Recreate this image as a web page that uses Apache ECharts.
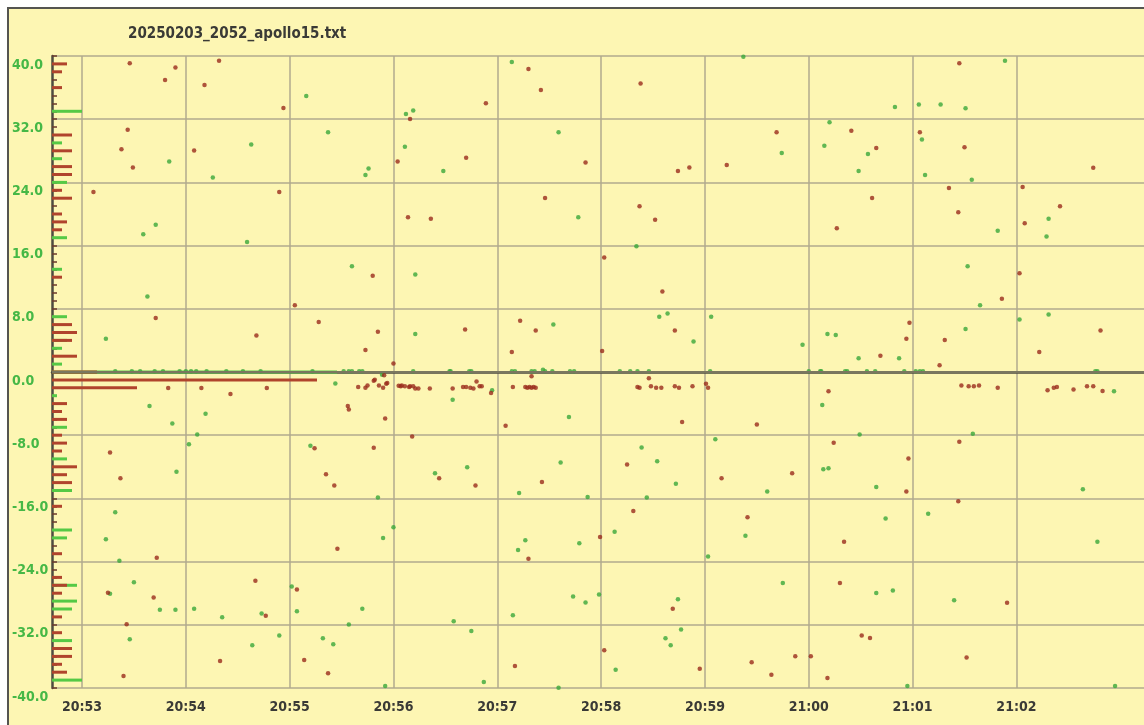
<!DOCTYPE html>
<html>
<head>
<meta charset="utf-8">
<script src="https://cdn.jsdelivr.net/npm/echarts@6/dist/echarts.min.js"></script>
<style>
  html, body { margin: 0; padding: 0; background: #fff; }
  #chart { width: 1144px; height: 725px; }
</style>
</head>
<body>
<div id="chart"></div>
<script>
// time values are minutes after 20:00
const titleText = '20250203_2052_apollo15.txt';
const timeTicks = [53, 54, 55, 56, 57, 58, 59, 60, 61, 62];

const redPts = [
  [53.46,39.07],[53.90,38.53],[53.80,36.97],[54.32,39.41],[54.18,36.34],[54.94,33.43],[53.44,30.65],[53.38,28.21],
  [53.49,25.89],[54.08,28.04],[56.16,32.04],[56.89,34.02],[57.30,38.36],[57.42,35.71],[57.85,26.53],[56.04,26.65],
  [56.70,27.12],[53.11,22.78],[54.90,22.78],[56.14,19.58],[56.36,19.41],[57.46,22.02],[55.80,12.17],[53.71,6.82],
  [54.68,4.63],[55.05,8.46],[55.28,6.32],[55.85,5.09],[55.73,2.78],[56.00,1.09],[56.69,5.39],[57.22,6.48],
  [57.37,5.26],[57.14,2.53],
  [58.38,36.51],[61.45,39.07],[59.69,30.36],[60.41,30.53],[61.07,30.36],[60.65,28.34],[61.50,28.46],[58.74,25.43],
  [58.85,25.89],[59.21,26.19],[62.74,25.85],[58.37,20.97],[58.52,19.28],[60.61,22.02],[60.27,18.19],[61.35,23.28],
  [61.44,20.21],[62.06,23.41],[62.08,18.82],[62.42,20.97],[58.03,14.48],[58.59,10.19],[58.71,5.26],[58.01,2.65],
  [60.69,2.06],[60.97,6.23],[60.94,4.21],[61.31,4.04],[61.26,0.84],[61.86,9.26],[62.03,12.51],[62.22,2.53],[62.81,5.26],
  [53.83,-2.03],[54.15,-2.03],[54.43,-2.79],[54.78,-2.03],[55.56,-4.31],[55.57,-4.74],[55.92,-5.88],[56.18,-8.16],
  [57.08,-6.81],[53.27,-10.19],[53.37,-13.45],[55.24,-9.64],[55.35,-12.94],[55.43,-14.38],[55.81,-9.60],[56.44,-13.45],
  [56.79,-14.38],[57.43,-13.91],[53.72,-23.51],[55.46,-22.37],[57.30,-23.64],[57.99,-20.89],[53.25,-27.95],[53.69,-28.54],
  [54.67,-26.43],[54.77,-30.87],[55.07,-27.53],[53.43,-31.92],[53.40,-38.48],[54.33,-36.58],[55.14,-36.45],[55.37,-38.14],
  [57.17,-37.21],[58.03,-35.22],
  [60.19,-2.45],[58.78,-6.34],[59.50,-6.64],[58.25,-11.71],[59.16,-13.45],[59.84,-12.81],[60.24,-8.96],[61.45,-8.84],
  [60.96,-10.95],[60.94,-15.14],[58.31,-17.59],[59.41,-18.39],[60.34,-21.48],[61.44,-16.36],[58.69,-29.98],[60.30,-26.72],
  [61.91,-29.22],[58.95,-37.55],[59.45,-36.74],[59.64,-38.31],[59.87,-35.98],[60.02,-35.98],[60.18,-38.73],[60.51,-33.36],
  [60.59,-33.66],[61.52,-36.15]
];

// red cluster just under the zero line
const redZero = [
  [55.66,-1.9],[55.73,-2.0],[55.75,-1.7],[55.81,-1.1],[55.82,-0.97],[55.86,-1.7],[55.90,-2.0],[55.91,-0.4],
  [55.93,-1.5],[55.94,-1.4],[56.05,-1.75],[56.07,-1.8],[56.08,-1.7],[56.11,-1.8],[56.15,-1.9],[56.16,-1.8],
  [56.19,-1.8],[56.21,-2.1],[56.24,-2.1],[56.35,-2.1],[56.57,-2.1],[56.67,-1.9],[56.70,-1.9],[56.74,-2.0],
  [56.77,-2.1],[56.80,-1.2],[56.83,-1.8],[56.85,-1.8],[56.94,-2.66],[57.15,-1.9],[57.27,-1.9],[57.29,-2.0],
  [57.31,-1.9],[57.33,-2.0],[57.35,-1.9],[57.37,-2.0],[57.33,-0.55],
  [58.35,-1.9],[58.37,-2.0],[58.46,-0.8],[58.48,-1.8],[58.53,-2.0],[58.58,-2.0],[58.71,-1.8],[58.75,-2.0],
  [58.88,-1.8],[59.01,-1.5],[59.03,-2.0],
  [61.47,-1.7],[61.54,-1.8],[61.59,-1.8],[61.64,-1.7],[61.82,-2.0],
  [62.30,-2.3],[62.36,-2.0],[62.39,-1.9],[62.55,-2.2],[62.68,-1.8],[62.74,-1.8],[62.83,-2.4]
];

const greenPts = [
  [55.16,34.95],[53.84,26.65],[54.63,28.80],[54.26,24.63],[55.37,30.36],[56.12,32.67],[56.19,33.09],[57.14,39.24],
  [57.59,30.36],[56.11,28.51],[55.76,25.77],[55.73,24.93],[56.48,25.43],[53.71,18.65],[53.59,17.43],[54.59,16.46],
  [57.78,19.58],[55.60,13.39],[56.21,12.34],[53.63,9.56],[53.23,4.21],[56.21,4.80],[57.54,6.02],
  [59.37,39.92],[61.89,39.41],[60.83,33.56],[61.06,33.85],[61.27,33.85],[61.51,33.39],[60.20,31.62],[61.09,29.43],
  [59.74,27.71],[60.15,28.63],[60.57,27.58],[60.48,25.43],[61.12,24.93],[61.57,24.34],[61.82,17.89],[62.31,19.41],
  [62.29,17.14],[58.34,15.92],[58.56,6.99],[58.64,7.41],[58.89,3.87],[59.06,6.99],[59.94,3.45],[60.18,4.80],
  [60.26,4.67],[60.48,1.73],[60.87,1.73],[61.51,5.43],[61.53,13.39],[61.65,8.46],[62.03,6.65],[62.31,7.28],
  [55.44,-1.44],[53.65,-4.31],[54.19,-5.29],[53.87,-6.51],[54.11,-7.91],[54.03,-9.13],[56.57,-3.51],[57.69,-5.71],
  [53.91,-12.64],[55.20,-9.34],[56.40,-12.81],[56.71,-12.05],[57.61,-11.46],[57.21,-15.31],[57.87,-15.81],[55.85,-15.90],
  [53.32,-17.76],[53.23,-21.18],[53.36,-23.89],[56.00,-19.66],[55.90,-21.01],[57.27,-21.31],[57.20,-22.54],[57.79,-21.69],
  [53.50,-26.60],[53.27,-28.08],[53.75,-30.11],[53.90,-30.11],[54.08,-29.98],[54.35,-31.04],[54.73,-30.57],[55.02,-27.15],
  [55.07,-30.27],[55.70,-29.98],[53.46,-33.83],[54.64,-34.59],[54.90,-33.36],[55.32,-33.70],[55.42,-34.46],[55.57,-31.97],
  [55.92,-39.75],[56.58,-31.54],[56.75,-32.77],[56.87,-39.24],[57.15,-30.78],[57.73,-28.41],[57.85,-29.18],[57.98,-28.16],
  [57.59,-39.96],[55.89,-0.34],[56.95,-2.30],
  [60.13,-4.19],[60.49,-7.91],[59.10,-8.50],[58.39,-9.56],[58.54,-11.29],[58.72,-14.16],[58.44,-15.90],[59.60,-15.14],
  [60.14,-12.30],[60.19,-12.18],[61.58,-7.82],[60.65,-14.55],[62.64,-14.84],[58.13,-20.21],[59.39,-20.72],[59.03,-23.34],
  [60.74,-18.56],[61.15,-17.93],[62.78,-21.48],[58.74,-28.75],[59.75,-26.72],[60.65,-27.99],[60.81,-27.65],[61.40,-28.88],
  [58.77,-32.60],[58.62,-33.70],[58.67,-34.59],[58.14,-37.68],[60.95,-39.75],[62.95,-39.75],[62.94,-2.45]
];

// green points sitting on the zero line
const greenZero = [
  [53.32,0.1],[53.48,0.1],[53.56,0.1],[53.70,0.1],[53.78,0.1],[53.94,0.1],[54.00,0.1],[54.05,0.1],[54.10,0.1],
  [54.20,0.1],[54.39,0.1],[54.55,0.1],[54.72,0.1],[55.22,0.1],[55.52,0.1],[55.57,0.1],[55.60,0.1],[55.67,0.1],
  [55.70,0.1],[56.19,0.1],[56.54,0.1],[56.55,0.1],[56.73,0.1],[56.75,0.1],[57.14,0.1],[57.17,0.1],[57.33,0.1],
  [57.36,0.1],[57.44,0.3],[57.46,0.1],[57.53,0.1],[57.70,0.1],[57.74,0.1],[58.18,0.1],[58.28,0.1],[58.35,0.1],
  [58.46,0.1],[59.05,0.1],[60.00,0.1],[60.11,0.1],[60.12,0.1],[60.35,0.1],[60.37,0.1],[60.56,0.1],[60.64,0.1],
  [60.92,0.1],[61.03,0.1],[61.07,0.1],[61.10,0.1],[62.76,0.1],[62.78,0.1]
];

// histogram on the left edge: one bin per unit, -40 .. 40
const histBins = [];
for (let k = -40; k <= 40; k++) histBins.push(String(k));
const histRed = [
  0,0,3,2,4,4,0,2,0,2,
  0,0,2,3,2,0,0,2,0,0,
  0,0,0,2,0,0,4,3,5,0,
  2,3,2,0,3,2,3,0,17,53,
  9,0,5,0,4,5,4,0,0,0,
  0,0,2,0,0,0,0,0,2,3,
  2,0,4,2,0,4,4,0,4,0,
  4,0,0,0,0,0,2,0,2,3,
  0
];
const histGreen = [
  0,6,0,0,0,0,4,0,0,0,
  4,5,0,5,0,0,0,0,0,3,
  4,0,0,0,0,4,0,0,0,3,
  0,0,0,3,0,0,0,1,0,0,
  57,2,0,2,3,0,0,3,0,0,
  0,0,0,2,0,0,0,3,0,0,
  0,0,0,0,3,3,0,2,0,2,
  0,0,0,6,0,0,0,0,0,0,
  0
];

const FONT = '"DejaVu Sans Condensed", "DejaVu Sans", sans-serif';
const RED = '#9a2c1c';
const GREEN = '#3aa83a';
const GRID = '#b0aa8e';

function fmtTime(v) {
  if (timeTicks.indexOf(Math.round(v * 1000) / 1000) < 0) return '';
  const h = 20 + Math.floor(v / 60);
  const m = Math.round(v % 60);
  return h + ':' + (m < 10 ? '0' : '') + m;
}

// one colour per vertical line: 20:53 .. 21:02 visible, 21:03 hidden
const vLineColors = timeTicks.map(function () { return GRID; }).concat(['rgba(0,0,0,0)', 'rgba(0,0,0,0)']);

const myChart = echarts.init(document.getElementById('chart'));

const option = {
  backgroundColor: '#ffffff',
  animation: false,
  graphic: {
    elements: [{
      type: 'rect',
      z: -100,
      silent: true,
      shape: { x: 8, y: 8, width: 1160, height: 740 },
      style: { fill: '#fdf6b3', stroke: '#555550', lineWidth: 2 }
    }]
  },
  title: {
    text: titleText,
    left: 123,
    top: 22,
    textStyle: { fontFamily: FONT, fontSize: 15, fontWeight: 'bold', color: '#3a3a36' }
  },
  grid: [
    { left: 52, right: -2, top: 56, bottom: 37 },
    { left: 82, right: -2, top: 56, bottom: 37 },
    { left: 52, width: 300, top: 56, bottom: 37 }
  ],
  xAxis: [
    {
      gridIndex: 0, type: 'value', min: 0, max: 1,
      axisLine: { show: true, lineStyle: { color: '#4d4b40', width: 2.5 } },
      axisTick: { show: false }, axisLabel: { show: false }, splitLine: { show: false }
    },
    {
      gridIndex: 1, type: 'value', min: 53, max: 63.2, interval: 1,
      axisLine: { show: false }, axisTick: { show: false },
      axisLabel: {
        show: true, margin: 12,
        fontFamily: FONT, fontSize: 14, fontWeight: 'bold', color: '#3a3a36',
        formatter: fmtTime
      },
      splitLine: { show: true, lineStyle: { color: vLineColors, width: 1.5 } }
    },
    { gridIndex: 2, type: 'value', min: 0, max: 60, show: false }
  ],
  yAxis: [
    {
      gridIndex: 0, type: 'value', min: -40, max: 40, interval: 8,
      axisLine: { show: true, lineStyle: { color: '#4d4b40', width: 2.5 } },
      axisTick: { show: false },
      axisLabel: {
        align: 'left', margin: 40, verticalAlign: 'top', lineHeight: 18,
        fontFamily: FONT, fontSize: 14, fontWeight: 'bold', color: '#46b846',
        formatter: function (v) { return v.toFixed(1); }
      },
      splitLine: { show: true, lineStyle: { color: GRID, width: 1.5 } }
    },
    { gridIndex: 1, type: 'value', min: -40, max: 40, show: false },
    {
      gridIndex: 2, type: 'category', data: histBins, boundaryGap: false,
      axisLine: { show: false },
      axisTick: { show: true, inside: true, length: 5, interval: 0, lineStyle: { color: '#6b3b2b', width: 1.5 } },
      axisLabel: { show: false },
      splitLine: { show: false }
    }
  ],
  series: [
    {
      type: 'scatter', xAxisIndex: 0, yAxisIndex: 0, data: [[0.5, 0]], symbolSize: 0, silent: true,
      markLine: {
        silent: true, symbol: 'none', animation: false,
        label: { show: false },
        lineStyle: { color: '#7a775f', width: 2, type: 'solid' },
        data: [{ yAxis: 0 }]
      }
    },
    {
      name: 'green hist', type: 'bar', xAxisIndex: 2, yAxisIndex: 2,
      data: histGreen, barWidth: 3, barGap: '-100%',
      itemStyle: { color: '#55c945' }
    },
    {
      name: 'red hist', type: 'bar', xAxisIndex: 2, yAxisIndex: 2,
      data: histRed, barWidth: 3, barGap: '-100%',
      itemStyle: { color: '#b0442c' }
    },
    {
      name: 'green', type: 'scatter', xAxisIndex: 1, yAxisIndex: 1,
      data: greenPts.concat(greenZero), symbolSize: 4.5,
      itemStyle: { color: GREEN }
    },
    {
      name: 'red', type: 'scatter', xAxisIndex: 1, yAxisIndex: 1,
      data: redPts.concat(redZero), symbolSize: 4.5,
      itemStyle: { color: RED }
    }
  ]
};

myChart.setOption(option);
</script>
</body>
</html>
